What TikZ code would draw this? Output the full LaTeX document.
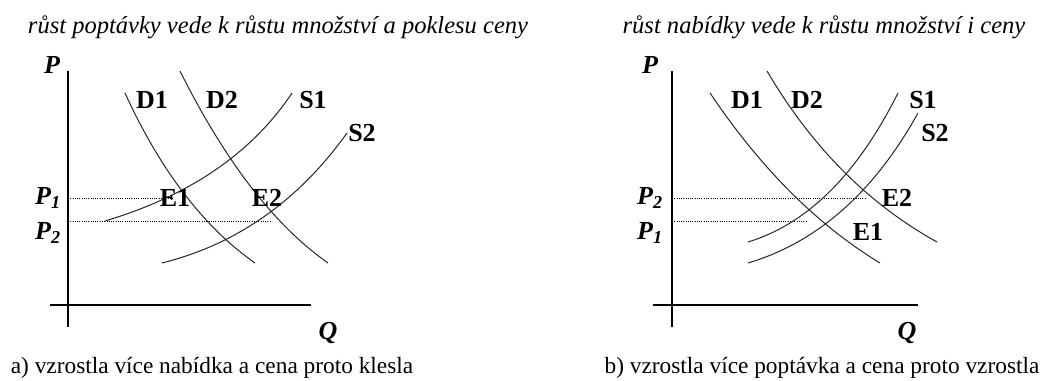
\documentclass[tikz,border=0pt]{standalone}
\usepackage{fontspec}
\setmainfont{Liberation Serif}
\usetikzlibrary{calc}

% krivka z #1 do #3, #2 = ridici bod
\newcommand{\krivka}[3]{\draw[crv] #1 .. controls ($#1!.667!#2$) and ($#3!.667!#2$) .. #3;}

\begin{document}
\begin{tikzpicture}[x=0.75pt, y=-0.75pt, font=\fontsize{17.5}{20}\selectfont,
        osa/.style={line width=0.9pt},
        crv/.style={line width=0.75pt, black!85},
        tecky/.style={densely dotted, line width=0.7pt},
        lbl/.style={font=\fontsize{19.5}{22}\selectfont\bfseries, inner sep=0},
        velic/.style={font=\fontsize{19.5}{22}\selectfont\bfseries\itshape, inner sep=0}]
    \useasboundingbox (0,0) rectangle (1050,381);
    % a) levy graf
    \node (titA) at (278,27) {\fontsize{18.4}{21}\selectfont\itshape růst poptávky vede k růstu množství a poklesu ceny};
    \coordinate (aTop) at (68,71); \coordinate (aBot) at (68,327);
    \coordinate (aL) at (50,305); \coordinate (aR) at (311,305);
    \draw[osa] (aTop) -- (aBot); \draw[osa] (aL) -- (aR);
    \node[velic] (aP) at (52,65) {P};
    \node[velic] (aQ) at (328,333) {Q};
    \node[velic] (aP1) at (48,198) {P\textsubscript{1}};
    \node[velic] (aP2) at (48,233) {P\textsubscript{2}};
    \coordinate (aE1) at (173,198); \coordinate (aE2) at (272,221);
    \draw[tecky] (68,198) -- (aE1); \draw[tecky] (68,221) -- (aE2);
    \krivka{(125,93)}{(178,209)}{(255,263)}
    \krivka{(180,71)}{(248,207)}{(328,263)}
    \krivka{(105,221)}{(232,183)}{(292,93)}
    \krivka{(162,263)}{(274,235)}{(347,133)}
    \node[lbl] (aD1) at (152,100) {D1};
    \node[lbl] (aD2) at (222,100) {D2};
    \node[lbl] (aS1) at (313,100) {S1};
    \node[lbl] (aS2) at (362,133) {S2};
    \node[lbl] (aEq1) at (175,198) {E1};
    \node[lbl] (aEq2) at (267,198) {E2};
    \node (popA) at (212,368) {a) vzrostla více nabídka a cena proto klesla};
    % b) pravy graf
    \node (titB) at (824,27) {\fontsize{18.4}{21}\selectfont\itshape růst nabídky vede k růstu množství i ceny};
    \coordinate (bTop) at (672,71); \coordinate (bBot) at (672,327);
    \coordinate (bL) at (653,305); \coordinate (bR) at (918,305);
    \draw[osa] (bTop) -- (bBot); \draw[osa] (bL) -- (bR);
    \node[velic] (bP) at (650,65) {P};
    \node[velic] (bQ) at (907,333) {Q};
    \node[velic] (bP2) at (650,198) {P\textsubscript{2}};
    \node[velic] (bP1) at (650,233) {P\textsubscript{1}};
    \coordinate (bE2) at (865,198); \coordinate (bE1) at (807,221);
    \draw[tecky] (672,198) -- (bE2); \draw[tecky] (672,221) -- (bE1);
    \krivka{(710,93)}{(786,206)}{(880,263)}
    \krivka{(767,71)}{(834,185)}{(937,242)}
    \krivka{(748,242)}{(837,215)}{(898,93)}
    \krivka{(748,263)}{(852,232)}{(918,113)}
    \node[lbl] (bD1) at (747,100) {D1};
    \node[lbl] (bD2) at (807,100) {D2};
    \node[lbl] (bS1) at (923,100) {S1};
    \node[lbl] (bS2) at (935,133) {S2};
    \node[lbl] (bEq2) at (897,198) {E2};
    \node[lbl] (bEq1) at (868,232) {E1};
    \node (popB) at (822,368) {b) vzrostla více poptávka a cena proto vzrostla};
\end{tikzpicture}
\end{document}
